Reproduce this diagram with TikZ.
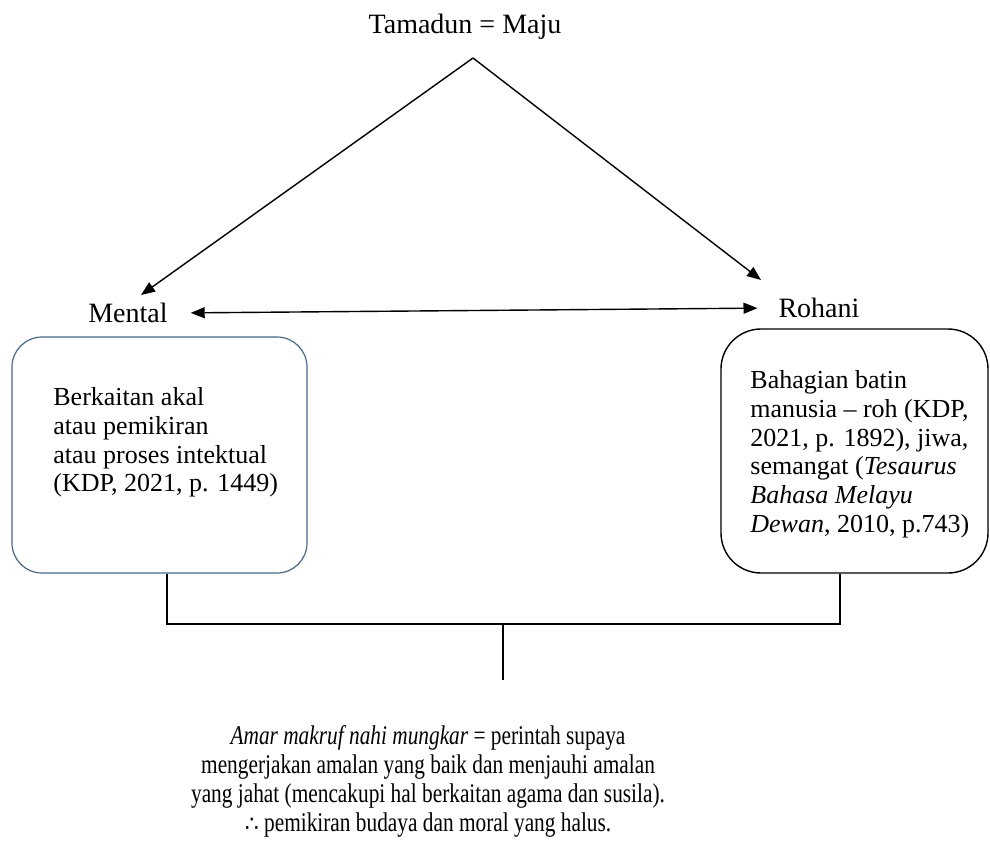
\documentclass[tikz,border=0pt]{standalone}
\usepackage{fontspec}
\setmainfont{Liberation Serif}
\newfontfamily\condfont[FakeStretch=0.79]{Liberation Serif}
\newfontfamily\symfont{DejaVu Sans}
\usetikzlibrary{arrows.meta}
\definecolor{boxblue}{RGB}{72,104,136}

\begin{document}
\begin{tikzpicture}[x=0.5pt,y=-0.5pt,
    every node/.style={font=\fontsize{14}{14.5}\selectfont},
    arr/.style={-{Triangle[length=7pt,width=5.5pt]},line width=0.7pt},
    dbl/.style={{Triangle[length=7pt,width=5.5pt]}-{Triangle[length=7pt,width=5.5pt]},line width=0.7pt},
    mbox/.style={draw=boxblue,line width=0.6pt,rounded corners=15pt,minimum width=147.5pt,minimum height=118pt},
    rbox/.style={draw,line width=0.7pt,rounded corners=20pt,minimum width=133.5pt,minimum height=122pt},
    btext/.style={anchor=north west,inner sep=0pt,align=left,font=\fontsize{13}{14.4}\selectfont}]
  \useasboundingbox (0,0) rectangle (990,847);

  % top
  \node (tamadun) at (465,27) {Tamadun = Maju};
  \coordinate (apex) at (473,58);
  \coordinate (mentaltip) at (141,295);
  \coordinate (rohanitip) at (761,280);
  \draw[arr] (apex) -- (mentaltip);
  \draw[arr] (apex) -- (rohanitip);

  % two sides
  \node (mental) at (128,313) {Mental};
  \node (rohani) at (819,308) {Rohani};
  \draw[dbl,shorten <=8pt,shorten >=7pt] (mental.east) -- (rohani.west);

  \node[mbox] (mentalbox) at (159.5,455) {};
  \node[btext] (mentaltext) at (53,387) {Berkaitan akal\\atau pemikiran\\atau proses intektual\\(KDP, 2021, p. 1449)};
  \node[rbox] (rohanibox) at (854.5,451) {};
  \node[btext] (rohanitext) at (750,370) {Bahagian batin\\manusia -- roh (KDP,\\2021, p. 1892), jiwa,\\semangat (\textit{Tesaurus}\\\textit{Bahasa Melayu}\\\textit{Dewan}, 2010, p.743)};

  % bracket below
  \coordinate (jointL) at (167,624);
  \coordinate (jointR) at (840,624);
  \coordinate (jointM) at (503,624);
  \coordinate (stemend) at (503,680);
  \draw[line width=0.75pt] (mentalbox.south -| jointL) -- (jointL) -- (jointR) -- (rohanibox.south -| jointR);
  \draw[line width=0.75pt] (jointM) -- (stemend);

  \node[anchor=north,inner sep=0pt,align=center,font=\condfont\fontsize{13.5}{14.5}\selectfont] (amar) at (428,725) {\textit{Amar makruf nahi mungkar} = perintah supaya\\mengerjakan amalan yang baik dan menjauhi amalan\\yang jahat (mencakupi hal berkaitan agama dan susila).\\{\symfont\fontsize{11}{14.5}\selectfont ∴} pemikiran budaya dan moral yang halus.};
\end{tikzpicture}
\end{document}
